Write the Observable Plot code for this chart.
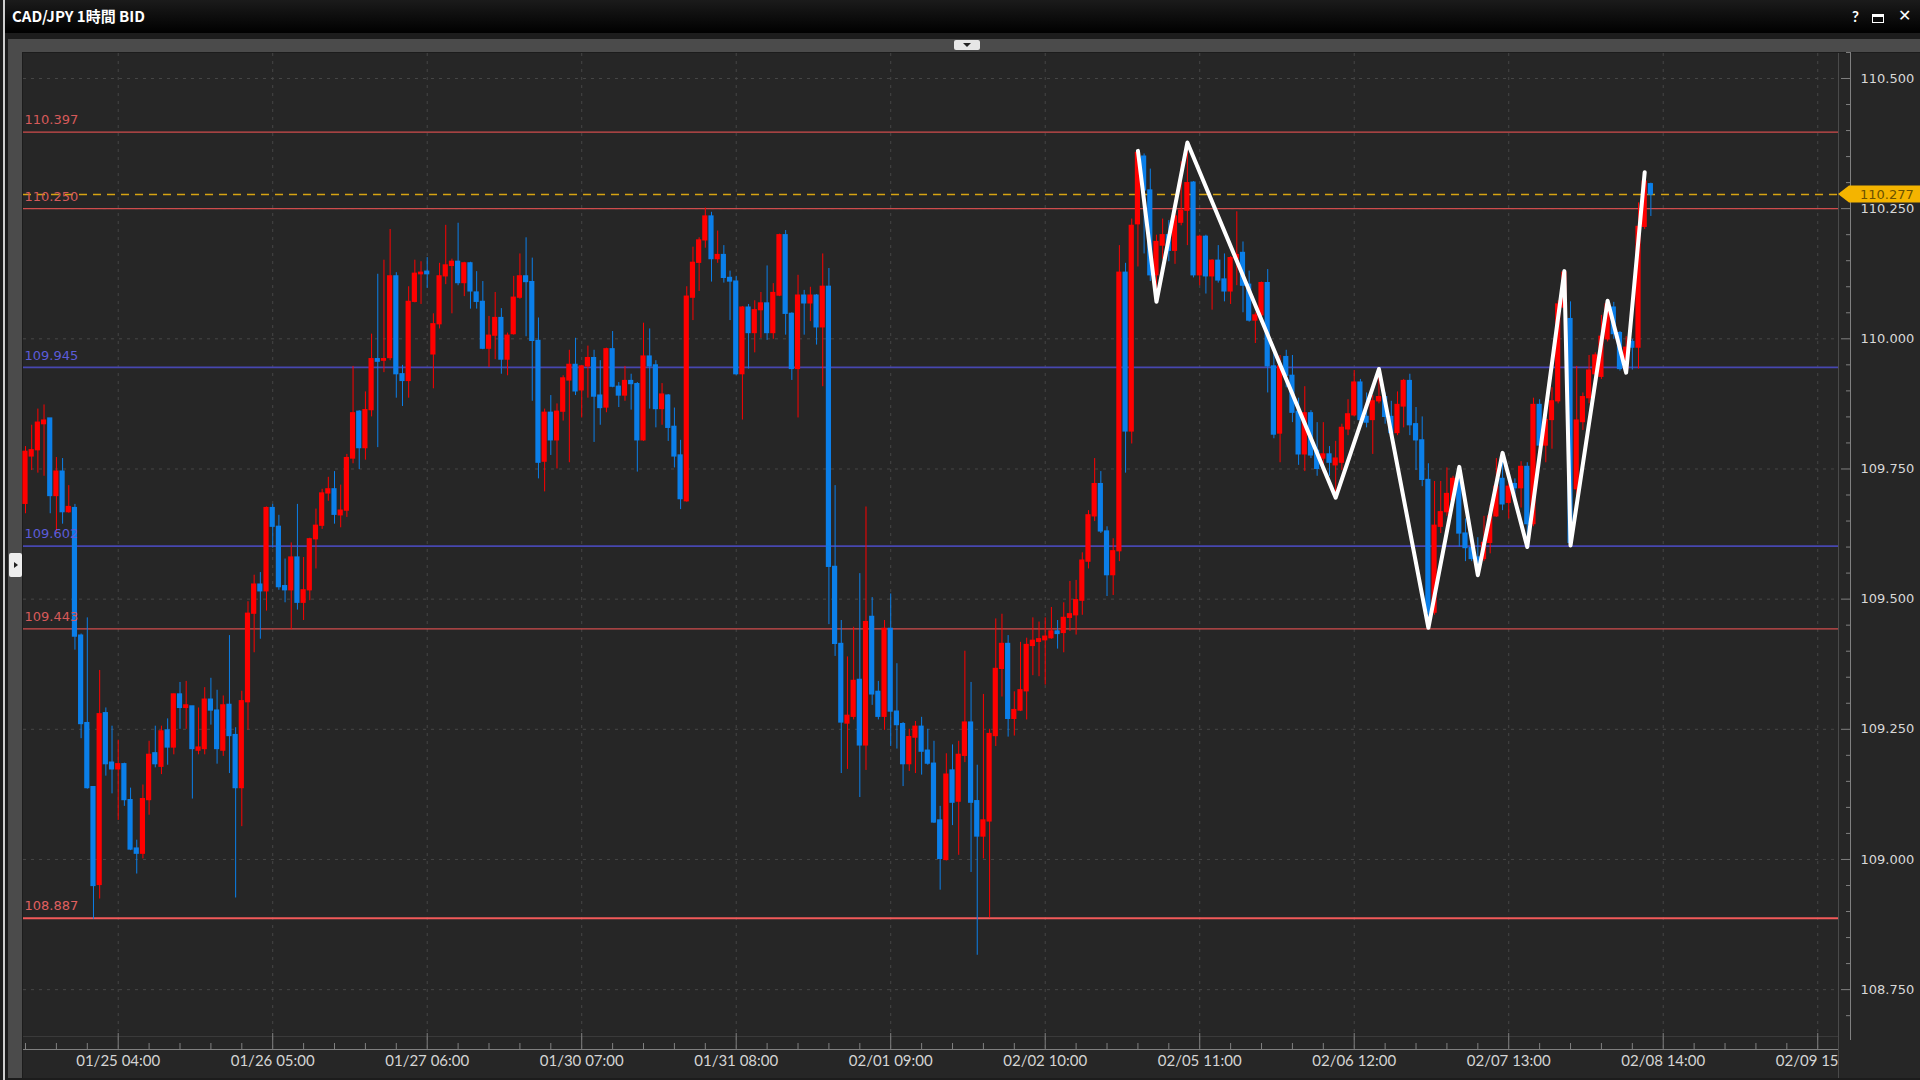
<!DOCTYPE html>
<html><head><meta charset="utf-8">
<script src="https://cdn.jsdelivr.net/npm/d3@7"></script>
<script src="https://cdn.jsdelivr.net/npm/@observablehq/plot@0.6"></script>
<style>
html,body{margin:0;padding:0;background:#000;}
body{width:1920px;height:1080px;position:relative;overflow:hidden;}
.abs{position:absolute;}
</style></head>
<body>
<div class="abs" style="left:0;top:0;width:1920px;height:1080px;background:#1c1c1c"></div>
<div class="abs" style="left:3px;top:0;width:2px;height:1080px;background:#cfcfcf"></div>
<div class="abs" style="left:5px;top:0;width:1915px;height:33px;background:linear-gradient(#1b1b1b,#000)"></div>
<div class="abs" style="left:12px;top:5px;color:#fff;font:bold 15px 'Noto Sans CJK JP',sans-serif;">CAD/JPY 1時間 BID</div>
<div class="abs" style="left:1852px;top:7px;color:#fff;font:bold 15px Lato,sans-serif;">?</div>
<div class="abs" style="left:1872px;top:14px;width:10px;height:5px;border:1.5px solid #fff;border-top-width:3px;"></div>
<div class="abs" style="left:1898px;top:6px;color:#fff;font:16px 'DejaVu Sans',sans-serif;">✕</div>
<div class="abs" style="left:8px;top:39px;width:1912px;height:13px;background:#4b4b4b"></div>
<div class="abs" style="left:954px;top:40px;width:26px;height:10px;background:#e6e6e6;border-radius:2px;"></div>
<div class="abs" style="left:963px;top:43px;width:0;height:0;border-left:4px solid transparent;border-right:4px solid transparent;border-top:4px solid #222;"></div>
<div class="abs" style="left:8px;top:52px;width:14px;height:1026px;background:#4b4b4b"></div>
<div class="abs" style="left:9px;top:553px;width:13px;height:24px;background:#eeeeee;border-radius:2px;"></div>
<div class="abs" style="left:14px;top:562px;width:0;height:0;border-top:3px solid transparent;border-bottom:3px solid transparent;border-left:4px solid #222;"></div>
<div class="abs" style="left:23px;top:53px;width:1897px;height:1025px;background:#262626"></div>
<div class="abs" style="left:23px;top:1036px;width:1815px;height:1px;background:#3a3a3a"></div>
<div class="abs" style="left:1838px;top:53px;width:1px;height:1025px;background:#4a4a4a"></div>
<div class="abs" style="left:1850px;top:53px;width:1px;height:987px;background:#808080"></div>
<div id="chart" class="abs" style="left:23px;top:53px;width:1897px;height:1025px;"></div>
<div class="abs" style="left:1839px;top:1040px;width:81px;height:38px;background:#262626"></div>
<div class="abs" style="left:1838px;top:1040px;width:1px;height:38px;background:#4a4a4a"></div>
<script>
// ---- data ----
const opens = [109.683,109.774,109.786,109.836,109.847,109.698,109.745,109.667,109.675,109.430,
109.262,109.139,108.951,109.281,109.186,109.173,109.183,109.114,109.021,109.011,
109.114,109.204,109.178,109.248,109.215,109.317,109.291,109.294,109.209,109.212,
109.307,109.286,109.209,109.297,109.239,109.137,109.302,109.472,109.528,109.515,
109.675,109.639,109.525,109.517,109.580,109.493,109.517,109.615,109.641,109.703,
109.711,109.661,109.670,109.770,109.860,109.790,109.863,109.961,109.958,109.963,
110.120,109.932,109.919,110.071,110.124,110.129,109.970,110.028,110.120,110.140,
110.148,110.107,110.145,110.089,110.071,109.981,110.006,110.040,109.960,110.009,
110.079,110.120,110.109,109.996,109.764,109.858,109.805,109.860,109.920,109.950,
109.901,109.947,109.963,109.891,109.868,109.980,109.908,109.891,109.919,109.913,
109.805,109.966,109.949,109.865,109.891,109.831,109.776,109.688,110.079,110.146,
110.189,110.235,110.153,110.161,110.117,110.110,109.932,110.060,110.011,110.055,
110.068,110.011,110.083,110.199,110.048,109.942,110.083,110.068,110.083,110.022,
110.100,109.562,109.414,109.261,109.274,109.345,109.219,109.466,109.322,109.274,
109.443,109.284,109.260,109.183,109.234,109.255,109.209,109.184,109.075,108.999,
109.171,109.111,109.199,109.263,109.112,109.044,109.073,109.237,109.366,109.414,
109.270,109.286,109.323,109.410,109.418,109.421,109.425,109.438,109.435,109.464,
109.469,109.497,109.572,109.659,109.721,109.630,109.546,109.592,110.127,109.822,
110.220,110.350,110.285,110.122,110.179,110.199,110.169,110.223,110.246,110.300,
110.122,110.196,110.120,110.150,110.114,110.091,110.153,110.165,110.104,110.035,
110.045,110.107,109.947,109.818,109.965,109.929,109.860,109.778,109.857,109.785,
109.770,109.778,109.757,109.762,109.826,109.853,109.916,109.850,109.844,109.880,
109.888,109.850,109.819,109.870,109.919,109.836,109.805,109.729,109.474,109.639,
109.667,109.690,109.731,109.626,109.598,109.580,109.577,109.608,109.659,109.731,
109.685,109.721,109.713,109.754,109.644,109.873,109.795,109.844,109.880,110.060,
110.038,109.711,109.840,109.886,109.932,109.927,109.999,110.060,110.011,109.942,
109.994,109.983,110.215,110.297];
const highs = [109.793,109.834,109.865,109.873,109.847,109.772,109.770,109.718,109.682,109.433,
109.464,109.139,109.363,109.291,109.256,109.229,109.185,109.137,109.037,109.143,
109.227,109.256,109.256,109.270,109.318,109.340,109.342,109.294,109.291,109.330,
109.348,109.325,109.314,109.430,109.253,109.323,109.495,109.546,109.551,109.677,
109.682,109.661,109.577,109.608,109.682,109.580,109.617,109.673,109.711,109.734,
109.745,109.719,109.778,109.947,109.862,109.898,110.009,110.124,110.151,110.210,
110.127,109.949,110.100,110.151,110.148,110.156,110.048,110.145,110.218,110.153,
110.222,110.147,110.147,110.129,110.110,110.043,110.089,110.058,110.011,110.120,
110.163,110.194,110.155,110.040,109.865,109.891,109.875,109.929,109.978,110.001,
109.949,109.986,109.978,109.958,109.982,110.014,109.916,109.947,109.932,109.916,
110.030,110.019,109.958,109.914,109.893,109.867,109.805,110.100,110.176,110.194,
110.251,110.243,110.207,110.179,110.130,110.120,110.062,110.066,110.073,110.089,
110.140,110.106,110.201,110.208,110.050,110.122,110.093,110.099,110.085,110.163,
110.135,109.718,109.459,109.389,109.446,109.549,109.677,109.503,109.342,109.459,
109.510,109.376,109.263,109.250,109.265,109.273,109.250,109.227,109.102,109.203,
109.220,109.227,109.400,109.340,109.181,109.317,109.250,109.462,109.471,109.430,
109.322,109.417,109.425,109.464,109.456,109.464,109.484,109.459,109.493,109.534,
109.536,109.589,109.670,109.770,109.745,109.639,109.616,110.179,110.145,110.230,
110.361,110.355,110.326,110.199,110.230,110.227,110.246,110.340,110.377,110.302,
110.199,110.199,110.152,110.179,110.163,110.158,110.244,110.186,110.130,110.050,
110.109,110.133,109.978,109.968,109.978,109.968,109.886,109.908,109.862,109.839,
109.839,109.793,109.803,109.836,109.883,109.939,109.922,109.896,109.891,109.942,
109.896,109.880,109.898,109.922,109.932,109.868,109.850,109.760,109.726,109.726,
109.752,109.736,109.754,109.654,109.618,109.618,109.659,109.680,109.770,109.781,
109.731,109.731,109.764,109.762,109.886,109.883,109.860,109.906,110.073,110.130,
110.071,109.947,109.896,109.968,109.973,110.045,110.073,110.070,110.014,110.004,
109.999,110.261,110.320,110.299];
const lows = [109.664,109.747,109.742,109.736,109.664,109.628,109.644,109.665,109.402,109.232,
109.135,108.885,108.924,109.160,109.126,109.075,109.102,109.017,108.972,109.001,
109.085,109.176,109.163,109.181,109.201,109.250,109.250,109.116,109.201,109.201,
109.258,109.183,109.198,109.165,108.926,109.063,109.248,109.397,109.423,109.477,
109.598,109.517,109.493,109.441,109.479,109.459,109.497,109.558,109.634,109.688,
109.644,109.637,109.657,109.760,109.749,109.767,109.850,109.791,109.935,109.958,
109.886,109.870,109.886,110.069,110.066,110.097,109.904,110.019,110.104,110.048,
110.102,110.081,110.057,110.057,109.979,109.945,109.960,109.932,109.929,110.007,
110.076,110.004,109.880,109.731,109.706,109.776,109.750,109.842,109.762,109.891,
109.848,109.886,109.801,109.834,109.858,109.906,109.868,109.880,109.863,109.744,
109.803,109.865,109.829,109.834,109.803,109.752,109.672,109.686,110.035,110.091,
110.174,110.109,110.145,110.107,110.035,109.930,109.844,109.942,109.973,110.001,
109.997,109.999,110.081,110.007,109.920,109.848,110.007,110.033,109.988,109.908,
109.451,109.390,109.165,109.173,109.268,109.119,109.171,109.296,109.268,109.248,
109.217,109.212,109.140,109.169,109.165,109.162,109.181,109.069,108.941,108.997,
109.065,109.008,109.186,108.975,108.816,109.001,108.888,109.217,109.312,109.235,
109.237,109.284,109.268,109.353,109.351,109.335,109.423,109.404,109.397,109.438,
109.431,109.469,109.558,109.649,109.626,109.505,109.507,109.572,109.742,109.798,
110.138,110.163,110.110,110.071,110.153,110.148,110.143,110.217,110.179,110.117,
110.102,110.086,110.055,110.107,110.071,110.066,110.102,110.050,110.032,109.991,
110.040,109.896,109.808,109.762,109.906,109.839,109.757,109.745,109.770,109.736,
109.742,109.736,109.695,109.747,109.814,109.850,109.829,109.829,109.778,109.875,
109.836,109.808,109.814,109.829,109.814,109.747,109.716,109.445,109.469,109.626,
109.659,109.680,109.600,109.572,109.572,109.546,109.572,109.587,109.657,109.670,
109.654,109.690,109.675,109.600,109.639,109.752,109.762,109.788,109.875,110.050,
109.603,109.680,109.824,109.875,109.916,109.922,109.994,109.999,109.938,109.935,
109.940,109.942,110.210,110.235];
const closes = [109.783,109.786,109.839,109.843,109.698,109.745,109.667,109.677,109.428,109.260,
109.137,108.949,109.279,109.183,109.173,109.183,109.114,109.019,109.011,109.116,
109.201,109.183,109.246,109.215,109.317,109.291,109.296,109.212,109.215,109.307,
109.286,109.212,109.296,109.237,109.137,109.304,109.472,109.528,109.515,109.675,
109.639,109.523,109.517,109.580,109.493,109.517,109.615,109.641,109.703,109.711,
109.662,109.670,109.771,109.857,109.790,109.863,109.961,109.956,109.961,110.120,
109.932,109.919,110.071,110.125,110.127,110.124,110.028,110.120,110.141,110.148,
110.107,110.145,110.091,110.071,109.981,110.006,110.040,109.960,110.006,110.079,
110.120,110.109,109.996,109.762,109.858,109.805,109.860,109.924,109.950,109.899,
109.947,109.963,109.889,109.867,109.980,109.908,109.891,109.919,109.913,109.805,
109.966,109.947,109.865,109.893,109.829,109.774,109.692,110.081,110.146,110.189,
110.235,110.153,110.161,110.117,110.110,109.932,110.060,110.011,110.055,110.068,
110.011,110.088,110.199,110.048,109.942,110.083,110.068,110.083,110.022,110.100,
109.562,109.414,109.263,109.276,109.343,109.219,109.456,109.317,109.274,109.443,
109.284,109.258,109.183,109.235,109.255,109.207,109.184,109.071,109.001,109.163,
109.109,109.201,109.263,109.109,109.044,109.075,109.241,109.366,109.414,109.270,
109.287,109.325,109.412,109.420,109.423,109.428,109.438,109.433,109.464,109.471,
109.498,109.574,109.661,109.721,109.630,109.546,109.592,110.127,109.822,110.217,
110.357,110.285,110.122,110.186,110.199,110.169,110.235,110.246,110.299,110.122,
110.196,110.120,110.150,110.112,110.091,110.155,110.161,110.102,110.035,110.045,
110.107,109.947,109.816,109.947,109.929,109.858,109.778,109.857,109.776,109.750,
109.778,109.762,109.770,109.829,109.855,109.916,109.844,109.839,109.880,109.888,
109.850,109.819,109.873,109.919,109.834,109.805,109.729,109.474,109.641,109.667,
109.702,109.731,109.626,109.598,109.577,109.567,109.608,109.659,109.716,109.682,
109.716,109.713,109.754,109.644,109.873,109.795,109.844,109.880,110.066,110.127,
109.608,109.843,109.888,109.939,109.968,110.004,110.066,110.009,109.942,109.983,
109.983,110.215,110.302,110.277];

// zigzag overlay (candle index, price)
const zigIdx   = [181, 184, 189, 213, 220, 228, 233, 236, 240, 244, 250, 251, 257, 260, 263];
const zigPrice = [110.361, 110.071, 110.377, 109.695, 109.942, 109.445, 109.754, 109.546, 109.781, 109.600, 110.130, 109.603, 110.073, 109.935, 110.320];

// horizontal levels
const levelPrices = [110.397, 110.250, 109.945, 109.602, 109.443, 108.887];
const levelKinds  = ["r", "r", "b", "b", "r", "r2"];

// axes
const xTickIdx = [16, 41, 66, 91, 116, 141, 166, 191, 216, 241, 266, 291];
const xTickLabels = ["01/25 04:00","01/26 05:00","01/27 06:00","01/30 07:00","01/31 08:00","02/01 09:00","02/02 10:00","02/05 11:00","02/06 12:00","02/07 13:00","02/08 14:00","02/09 15:00"];
const yMajorTicks = [108.75, 109.0, 109.25, 109.5, 109.75, 110.0, 110.25, 110.5];
const lastPrice = 110.277;

// ---- build ----
const candles = opens.map((o, k) => ({i: k + 1, open: o, high: highs[k], low: lows[k], close: closes[k]}));
const zig = zigIdx.map((x, k) => ({i: x, p: zigPrice[k]}));
const lineColor = {r: "#cf4c4c", b: "#4747b0", r2: "#f25a5a"};
const lineWidth = {r: 1.3, b: 1.8, r2: 2};
const labelColor = {r: "#d65a5a", b: "#5c5cd8", r2: "#e06060"};
const levels = levelPrices.map((p, k) => ({price: p, kind: levelKinds[k]}));
const xLabel = new Map(xTickIdx.map((d, k) => [d, xTickLabels[k]]));
const xMinor = d3.range(1, 295, 5).filter(d => !xTickIdx.includes(d));
const yMinor = d3.range(108.65, 110.551, 0.05).map(d => +d.toFixed(2)).filter(d => !yMajorTicks.some(t => Math.abs(t - d) < 1e-6));
const candleColor = d => d.close >= d.open ? "#ff0000" : "#0b7fe9";

const xDomain = [0.676, 294.36];
const yDomain = [108.635, 110.548];

const chart = Plot.plot({
  width: 1897, height: 1025,
  marginLeft: 0, marginRight: 82, marginTop: 0, marginBottom: 29,
  x: {domain: xDomain, axis: null},
  y: {domain: yDomain, axis: null},
  color: {type: "identity"},
  style: {background: "transparent", color: "#d8d8d8", overflow: "visible"},
  marks: [
    Plot.ruleY(yMajorTicks, {stroke: "#464646", strokeDasharray: "3,5"}),
    Plot.ruleX(xTickIdx, {stroke: "#464646", strokeDasharray: "3,5"}),
    Plot.ruleY(levels, {y: "price", stroke: d => lineColor[d.kind], strokeWidth: d => lineWidth[d.kind]}),
    Plot.ruleY([lastPrice], {stroke: "#d6a312", strokeDasharray: "8,6", strokeWidth: 1.5}),
    Plot.ruleX(candles, {x: "i", y1: d => Math.min(d.low, d.open, d.close), y2: d => Math.max(d.high, d.open, d.close), stroke: candleColor, strokeWidth: 1}),
    Plot.rect(candles, {x1: d => d.i - 0.42, x2: d => d.i + 0.42, y1: "open", y2: "close", fill: candleColor, insetTop: -0.6, insetBottom: -0.6}),
    Plot.text(levels, {x: xDomain[0], y: "price", text: d => d.price.toFixed(3), fill: d => labelColor[d.kind],
      dx: 1, dy: -12, textAnchor: "start", fontSize: 13, fontFamily: "DejaVu Sans"}),
    Plot.line(zig, {x: "i", y: "p", stroke: "#ffffff", strokeWidth: 4, strokeLinejoin: "round", strokeLinecap: "round"}),
    Plot.ruleY([yDomain[0]], {stroke: "#808080"}),
    Plot.axisX(xTickIdx, {anchor: "bottom", tickSize: 16, dy: -16, tickPadding: 6, tickFormat: d => xLabel.get(d),
      stroke: "#808080", fill: "#d4d4d4", fontSize: 15, fontFamily: "Lato", label: null}),
    Plot.axisX(xMinor, {anchor: "bottom", tickSize: 6, dy: -6, tickFormat: () => "", stroke: "#808080", label: null}),
    Plot.axisY(yMajorTicks, {anchor: "right", tickSize: 10, dx: 2, tickPadding: 10, tickFormat: d3.format(".3f"),
      stroke: "#808080", fill: "#d8d8d8", fontSize: 13, fontFamily: "DejaVu Sans", label: null}),
    Plot.axisY(yMinor, {anchor: "right", tickSize: 5, dx: 7, tickFormat: () => "", stroke: "#808080", label: null})
  ]
});
document.getElementById("chart").appendChild(chart);

// current price tag on the right axis, positioned with the plot's own y scale
const yPx = chart.scale("y").apply(lastPrice);
const xR = 1897 - 82;
const g = d3.select(chart).append("g");
g.append("polygon")
  .attr("points", [[xR, yPx], [xR + 11, yPx - 8.5], [1897, yPx - 8.5], [1897, yPx + 8.5], [xR + 11, yPx + 8.5]].map(p => p.join(",")).join(" "))
  .attr("fill", "#f4b400");
g.append("text").attr("x", xR + 22).attr("y", yPx).attr("dy", "0.35em")
  .attr("text-anchor", "start")
  .attr("fill", "#6b5200").attr("font-family", "DejaVu Sans").attr("font-size", 13)
  .text(lastPrice.toFixed(3));
</script>
</body></html>
